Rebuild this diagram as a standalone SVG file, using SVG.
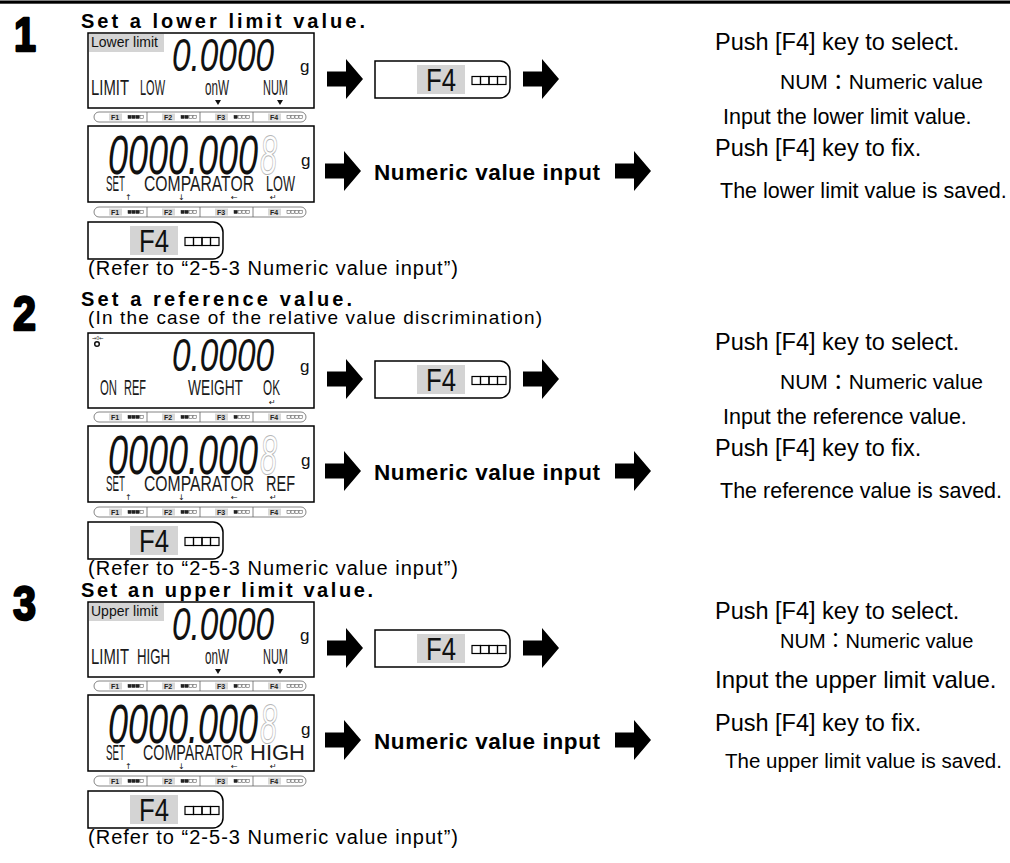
<svg xmlns="http://www.w3.org/2000/svg" xmlns:xlink="http://www.w3.org/1999/xlink" width="1010" height="863" viewBox="0 0 1010 863">
<style>
.lcd{font-family:"Liberation Sans",sans-serif;font-size:22px;fill:#1a1a1a}
.seg{font-family:"Liberation Sans",sans-serif;font-style:italic;fill:#111}
.hd{font-family:"Liberation Sans",sans-serif;font-weight:bold;font-size:20px;fill:#000}
.big{font-family:"Liberation Sans",sans-serif;font-weight:bold;font-size:48px;fill:#000;stroke:#000;stroke-width:2.4;stroke-linejoin:round}
.ref{font-family:"Liberation Sans",sans-serif;font-size:20px;fill:#000}
.sub{font-family:"Liberation Sans",sans-serif;font-size:19px;fill:#000}
.rt{font-family:"Liberation Sans","Noto Sans CJK JP",sans-serif;fill:#000}
.disp{fill:#fff;stroke:#000;stroke-width:1.5}
.lbl{fill:#d4d4d4}
.lbltx{font-family:"Liberation Sans",sans-serif;font-size:14px;fill:#111}
.gu{font-family:"Liberation Sans",sans-serif;font-size:17px;fill:#111}
.ghost{fill:none;stroke:#b8b8b8;stroke-width:1}
.ind{font-family:"DejaVu Sans",sans-serif;font-size:8px;fill:#111}
.nvi{font-family:"Liberation Sans",sans-serif;font-weight:bold;font-size:22.5px;fill:#000}
.fb{fill:#fff;stroke:#666;stroke-width:0.8}
.fbg{fill:#d9d9d9}
.fbt{font-family:"Liberation Sans",sans-serif;font-size:7px;font-weight:bold;fill:#222}
.sqf{fill:#222;stroke:#222;stroke-width:0.5}
.sqe{fill:#fff;stroke:#444;stroke-width:0.5}
.key{fill:#fff;stroke:#000;stroke-width:1.5}
.keytx{font-family:"Liberation Sans",sans-serif;font-size:32px;fill:#111}
.ksq{fill:none;stroke:#000;stroke-width:1.2}
</style>
<defs>
<path id="arrow" d="M0,-7.5 H19 V-20 L36,0 L19,20 V7.5 H0 Z" fill="#000"/>
<g id="fbar">
<rect class="fb" x="0" y="0" width="212" height="10" rx="5"/>
<line x1="53" y1="0" x2="53" y2="10" stroke="#666" stroke-width="0.8"/>
<line x1="106" y1="0" x2="106" y2="10" stroke="#666" stroke-width="0.8"/>
<line x1="159" y1="0" x2="159" y2="10" stroke="#666" stroke-width="0.8"/>
<rect class="fbg" x="15" y="1.5" width="13" height="7"/>
<rect class="fbg" x="68" y="1.5" width="13" height="7"/>
<rect class="fbg" x="121" y="1.5" width="13" height="7"/>
<rect class="fbg" x="174" y="1.5" width="13" height="7"/>
<text class="fbt" x="17" y="7.8">F1</text>
<text class="fbt" x="70" y="7.8">F2</text>
<text class="fbt" x="123" y="7.8">F3</text>
<text class="fbt" x="176" y="7.8">F4</text>
<rect class="sqf" x="34" y="3.3" width="3.2" height="3.2"/><rect class="sqf" x="38" y="3.3" width="3.2" height="3.2"/><rect class="sqf" x="42" y="3.3" width="3.2" height="3.2"/><rect class="sqe" x="46" y="3.3" width="3.2" height="3.2"/>
<rect class="sqf" x="87" y="3.3" width="3.2" height="3.2"/><rect class="sqf" x="91" y="3.3" width="3.2" height="3.2"/><rect class="sqe" x="95" y="3.3" width="3.2" height="3.2"/><rect class="sqe" x="99" y="3.3" width="3.2" height="3.2"/>
<rect class="sqf" x="140" y="3.3" width="3.2" height="3.2"/><rect class="sqe" x="144" y="3.3" width="3.2" height="3.2"/><rect class="sqe" x="148" y="3.3" width="3.2" height="3.2"/><rect class="sqe" x="152" y="3.3" width="3.2" height="3.2"/>
<rect class="sqe" x="193" y="3.3" width="3.2" height="3.2"/><rect class="sqe" x="197" y="3.3" width="3.2" height="3.2"/><rect class="sqe" x="201" y="3.3" width="3.2" height="3.2"/><rect class="sqe" x="205" y="3.3" width="3.2" height="3.2"/>
</g>
<g id="f4key">
<path class="key" d="M0,0 H125 A10,10 0 0 1 135,10 V27 A10,10 0 0 1 125,37 H0 Z"/>
<rect class="lbl" x="42" y="4" width="48" height="29"/>
<text class="keytx" x="66" y="30" text-anchor="middle" textLength="30" lengthAdjust="spacingAndGlyphs">F4</text>
<rect class="ksq" x="97" y="15.5" width="8.5" height="8"/>
<rect class="ksq" x="105.5" y="15.5" width="8.5" height="8"/>
<rect class="ksq" x="114" y="15.5" width="8.5" height="8"/>
<rect class="ksq" x="122.5" y="15.5" width="8.5" height="8"/>
</g>
</defs>

<rect id="top-rule" x="0" y="0.5" width="1010" height="3.2" fill="#000"/>

<!-- STEP 1 -->
<g id="step1-heading">
<text class="big" x="14" y="51" textLength="22" lengthAdjust="spacingAndGlyphs">1</text>
<text class="hd" x="81" y="28" textLength="284">Set a lower limit value.</text>
</g>
<g id="step1-display-a">
<rect class="disp" x="88" y="33" width="226" height="75"/>
<rect class="lbl" x="89" y="34" width="75" height="18"/>
<text class="lbltx" x="91" y="47">Lower limit</text>
<text class="seg" x="172" y="71" font-size="47" textLength="102" lengthAdjust="spacingAndGlyphs">0.0000</text>
<text class="gu" x="300" y="72">g</text>
<text class="lcd" x="91" y="95" textLength="38" lengthAdjust="spacingAndGlyphs">LIMIT</text>
<text class="lcd" x="140" y="95" textLength="25" lengthAdjust="spacingAndGlyphs">LOW</text>
<text class="lcd" x="205" y="95" textLength="24" lengthAdjust="spacingAndGlyphs">onW</text>
<text class="lcd" x="263" y="95" textLength="25" lengthAdjust="spacingAndGlyphs">NUM</text>
<polygon points="215,100 221,100 218,105" fill="#111"/>
<polygon points="277,100 283,100 280,105" fill="#111"/>
<use href="#fbar" x="94" y="112"/>
</g>
<g id="step1-display-b">
<rect class="disp" x="88" y="126" width="226" height="76"/>
<text class="seg" x="108" y="174" font-size="56" textLength="150" lengthAdjust="spacingAndGlyphs">0000.000</text>
<text class="seg ghost" x="260" y="174" font-size="56" textLength="17" lengthAdjust="spacingAndGlyphs">8</text>
<text class="gu" x="301" y="166">g</text>
<text class="lcd" x="106" y="191" textLength="19" lengthAdjust="spacingAndGlyphs">SET</text>
<text class="lcd" x="144" y="191" textLength="110" lengthAdjust="spacingAndGlyphs">COMPARATOR</text>
<text class="lcd" x="266" y="191" textLength="29" lengthAdjust="spacingAndGlyphs">LOW</text>
<text class="ind" x="125" y="200">↑</text>
<text class="ind" x="178" y="200">↓</text>
<text class="ind" x="231" y="200">←</text>
<text class="ind" x="270" y="200">↵</text>
<use href="#fbar" x="94" y="207"/>
</g>
<g id="step1-key-b"><use href="#f4key" x="88" y="222"/></g>
<text id="step1-refer" class="ref" x="88" y="275" textLength="370">(Refer to “2-5-3 Numeric value input”)</text>
<g id="step1-key-a"><use href="#f4key" x="375" y="61"/></g>
<text id="step1-nvi" class="nvi" x="374" y="180" textLength="226">Numeric value input</text>
<g id="step1-notes">
<text class="rt" x="715" y="49.5" font-size="23.5">Push [F4] key to select.</text>
<text class="rt" x="780" y="89" font-size="21">NUM：Numeric value</text>
<text class="rt" x="723" y="123.5" font-size="21.5">Input the lower limit value.</text>
<text class="rt" x="715" y="155.5" font-size="23.5">Push [F4] key to fix.</text>
<text class="rt" x="720" y="197.5" font-size="21.5">The lower limit value is saved.</text>
</g>

<!-- STEP 2 -->
<g id="step2-heading">
<text class="big" x="13" y="330" textLength="23" lengthAdjust="spacingAndGlyphs">2</text>
<text class="hd" x="81" y="306" textLength="271">Set a reference value.</text>
<text class="sub" x="88" y="324" textLength="454">(In the case of the relative value discrimination)</text>
</g>
<g id="step2-display-a">
<rect class="disp" x="88" y="333" width="226" height="75"/>
<text x="92" y="339.5" font-family="DejaVu Sans, sans-serif" font-size="5" fill="#111">→0←</text>
<circle cx="97" cy="344" r="2.3" fill="none" stroke="#111" stroke-width="1.5"/>
<text class="seg" x="172" y="371" font-size="47" textLength="102" lengthAdjust="spacingAndGlyphs">0.0000</text>
<text class="gu" x="300" y="372">g</text>
<text class="lcd" x="100" y="395" textLength="17" lengthAdjust="spacingAndGlyphs">ON</text>
<text class="lcd" x="124" y="395" textLength="22" lengthAdjust="spacingAndGlyphs">REF</text>
<text class="lcd" x="188" y="395" textLength="55" lengthAdjust="spacingAndGlyphs">WEIGHT</text>
<text class="lcd" x="263" y="395" textLength="17" lengthAdjust="spacingAndGlyphs">OK</text>
<text class="ind" x="269" y="405">↵</text>
<use href="#fbar" x="94" y="412"/>
</g>
<g id="step2-display-b">
<rect class="disp" x="88" y="426" width="226" height="76"/>
<text class="seg" x="108" y="474" font-size="56" textLength="150" lengthAdjust="spacingAndGlyphs">0000.000</text>
<text class="seg ghost" x="260" y="474" font-size="56" textLength="17" lengthAdjust="spacingAndGlyphs">8</text>
<text class="gu" x="301" y="466">g</text>
<text class="lcd" x="106" y="491" textLength="19" lengthAdjust="spacingAndGlyphs">SET</text>
<text class="lcd" x="144" y="491" textLength="110" lengthAdjust="spacingAndGlyphs">COMPARATOR</text>
<text class="lcd" x="266" y="491" textLength="29" lengthAdjust="spacingAndGlyphs">REF</text>
<text class="ind" x="125" y="500">↑</text>
<text class="ind" x="178" y="500">↓</text>
<text class="ind" x="231" y="500">←</text>
<text class="ind" x="270" y="500">↵</text>
<use href="#fbar" x="94" y="507"/>
</g>
<g id="step2-key-b"><use href="#f4key" x="88" y="522"/></g>
<text id="step2-refer" class="ref" x="88" y="575" textLength="370">(Refer to “2-5-3 Numeric value input”)</text>
<g id="step2-key-a"><use href="#f4key" x="375" y="361"/></g>
<text id="step2-nvi" class="nvi" x="374" y="480" textLength="226">Numeric value input</text>
<g id="step2-notes">
<text class="rt" x="715" y="349.5" font-size="23.5">Push [F4] key to select.</text>
<text class="rt" x="780" y="389" font-size="21">NUM：Numeric value</text>
<text class="rt" x="723" y="423.5" font-size="21.5">Input the reference value.</text>
<text class="rt" x="715" y="455.5" font-size="23.5">Push [F4] key to fix.</text>
<text class="rt" x="720" y="497.5" font-size="21.5">The reference value is saved.</text>
</g>

<!-- STEP 3 -->
<g id="step3-heading">
<text class="big" x="13" y="620" textLength="23" lengthAdjust="spacingAndGlyphs">3</text>
<text class="hd" x="81" y="597" textLength="292">Set an upper limit value.</text>
</g>
<g id="step3-display-a">
<rect class="disp" x="88" y="602" width="226" height="75"/>
<rect class="lbl" x="89" y="603" width="75" height="18"/>
<text class="lbltx" x="91" y="616">Upper limit</text>
<text class="seg" x="172" y="640" font-size="47" textLength="102" lengthAdjust="spacingAndGlyphs">0.0000</text>
<text class="gu" x="300" y="641">g</text>
<text class="lcd" x="91" y="664" textLength="38" lengthAdjust="spacingAndGlyphs">LIMIT</text>
<text class="lcd" x="137" y="664" textLength="33" lengthAdjust="spacingAndGlyphs">HIGH</text>
<text class="lcd" x="205" y="664" textLength="24" lengthAdjust="spacingAndGlyphs">onW</text>
<text class="lcd" x="263" y="664" textLength="25" lengthAdjust="spacingAndGlyphs">NUM</text>
<polygon points="215,669 221,669 218,674" fill="#111"/>
<polygon points="277,669 283,669 280,674" fill="#111"/>
<use href="#fbar" x="94" y="681"/>
</g>
<g id="step3-display-b">
<rect class="disp" x="88" y="695" width="226" height="76"/>
<text class="seg" x="108" y="743" font-size="56" textLength="150" lengthAdjust="spacingAndGlyphs">0000.000</text>
<text class="seg ghost" x="260" y="743" font-size="56" textLength="17" lengthAdjust="spacingAndGlyphs">8</text>
<text class="gu" x="301" y="735">g</text>
<text class="lcd" x="106" y="760" textLength="19" lengthAdjust="spacingAndGlyphs">SET</text>
<text class="lcd" x="143" y="760" textLength="100" lengthAdjust="spacingAndGlyphs">COMPARATOR</text>
<text class="lcd" x="250" y="760" textLength="55" lengthAdjust="spacingAndGlyphs">HIGH</text>
<text class="ind" x="125" y="769">↑</text>
<text class="ind" x="178" y="769">↓</text>
<text class="ind" x="231" y="769">←</text>
<text class="ind" x="270" y="769">↵</text>
<use href="#fbar" x="94" y="776"/>
</g>
<g id="step3-key-b"><use href="#f4key" x="88" y="791"/></g>
<text id="step3-refer" class="ref" x="88" y="844" textLength="370">(Refer to “2-5-3 Numeric value input”)</text>
<g id="step3-key-a"><use href="#f4key" x="375" y="630"/></g>
<text id="step3-nvi" class="nvi" x="374" y="749" textLength="226">Numeric value input</text>
<g id="step3-notes">
<text class="rt" x="715" y="619" font-size="23.5">Push [F4] key to select.</text>
<text class="rt" x="780" y="648" font-size="20">NUM：Numeric value</text>
<text class="rt" x="715" y="688" font-size="24">Input the upper limit value.</text>
<text class="rt" x="715" y="731" font-size="23.5">Push [F4] key to fix.</text>
<text class="rt" x="725" y="768" font-size="20.5">The upper limit value is saved.</text>
</g>

<g id="connectors">
<use href="#arrow" x="327" y="79"/>
<use href="#arrow" x="523" y="79"/>
<use href="#arrow" x="325" y="171"/>
<use href="#arrow" x="615" y="171"/>
<use href="#arrow" x="327" y="379"/>
<use href="#arrow" x="523" y="379"/>
<use href="#arrow" x="325" y="471"/>
<use href="#arrow" x="615" y="471"/>
<use href="#arrow" x="327" y="648"/>
<use href="#arrow" x="523" y="648"/>
<use href="#arrow" x="325" y="740"/>
<use href="#arrow" x="615" y="740"/>
</g>
</svg>
